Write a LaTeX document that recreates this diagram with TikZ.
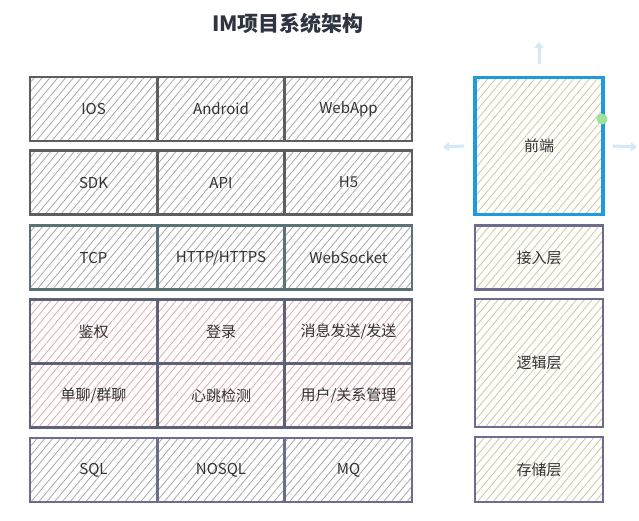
\documentclass[tikz,border=0pt]{standalone}
\usepackage{fontspec}
\setmainfont{Noto Sans CJK SC}
\usetikzlibrary{arrows.meta, patterns.meta, positioning}

\definecolor{titlegray}{HTML}{2E3440}
\definecolor{edgegray}{HTML}{5E5E60}
\definecolor{edgeteal}{HTML}{587276}
\definecolor{edgeslate}{HTML}{5E6276}
\definecolor{edgeviolet}{HTML}{6C6C8E}
\definecolor{hatchgray}{HTML}{A8A8A8}
\definecolor{hatchpink}{HTML}{E2ABA6}
\definecolor{hatchtan}{HTML}{D2C59C}
\definecolor{frontblue}{HTML}{1E9BDF}
\definecolor{handleblue}{HTML}{D4E9F6}
\definecolor{handlegreen}{HTML}{9BE39B}

\tikzset{
  cell/.style={draw=edgegray, line width=2.2pt, minimum width=127pt, minimum height=64pt,
    inner sep=0pt, font=\fontsize{15}{16}\selectfont, text=black!80,
    pattern={Lines[angle=50, distance=6pt, line width=0.8pt]}, pattern color=hatchgray},
  netcell/.style={cell, draw=edgeteal},
  logiccell/.style={cell, draw=edgeslate, pattern color=hatchpink},
  storecell/.style={cell, draw=edgeviolet},
  layer/.style={cell, draw=edgeviolet, minimum width=128pt, pattern color=hatchtan},
  handle/.style={-{Triangle[length=6pt, width=9pt]}, line width=3pt, draw=handleblue}
}

\begin{document}
\begin{tikzpicture}[x=1pt, y=-1pt]
  \fill[white] (0,0) rectangle (639,520);
  \useasboundingbox (0,0) rectangle (639,520);

  \node[font=\fontsize{21}{24}\selectfont\bfseries, text=titlegray] (title) at (288,23) {IM项目系统架构};

  % clients
  \node[cell] (ios) at (93.5,109) {IOS};
  \node[cell] (android) at (221,109) {Android};
  \node[cell] (webapp) at (348.5,109) {WebApp};
  \node[cell] (sdk) at (93.5,182.5) {SDK};
  \node[cell] (api) at (221,182.5) {API};
  \node[cell] (h5) at (348.5,182.5) {H5};

  % access
  \node[netcell] (tcp) at (93.5,257.5) {TCP};
  \node[netcell] (http) at (221,257.5) {HTTP/HTTPS};
  \node[netcell] (websocket) at (348.5,257.5) {WebSocket};

  % logic
  \node[logiccell] (auth) at (93.5,331.5) {鉴权};
  \node[logiccell] (login) at (221,331.5) {登录};
  \node[logiccell] (msg) at (348.5,331.5) {消息发送/发送};
  \node[logiccell] (chat) at (93.5,395.5) {单聊/群聊};
  \node[logiccell] (heartbeat) at (221,395.5) {心跳检测};
  \node[logiccell] (relation) at (348.5,395.5) {用户/关系管理};

  % storage
  \node[storecell] (sql) at (93.5,470) {SQL};
  \node[storecell] (nosql) at (221,470) {NOSQL};
  \node[storecell] (mq) at (348.5,470) {MQ};

  % layers
  \node[layer, draw=frontblue, line width=3.5pt, minimum height=137pt] (front) at (539,146) {前端};
  \node[layer] (accesslayer) at (539,257.5) {接入层};
  \node[layer, minimum height=128pt] (logiclayer) at (539,363) {逻辑层};
  \node[layer, minimum height=65pt] (storelayer) at (539,469.5) {存储层};

  % selection handles
  \coordinate (up) at (539,42);
  \coordinate (left) at (443,147);
  \coordinate (right) at (637,147);
  \draw[handle] ([yshift=12pt]front.north) -- (up);
  \draw[handle] ([xshift=-9pt]front.west) -- (left);
  \draw[handle] ([xshift=8pt]front.east) -- (right);
  \fill[handlegreen] (602,119) circle (5.5pt);
\end{tikzpicture}
\end{document}
